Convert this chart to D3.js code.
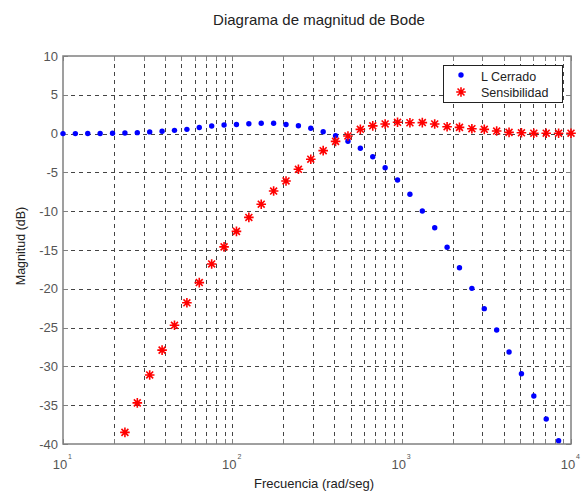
<!DOCTYPE html>
<html>
<head>
<meta charset="utf-8">
<title>Diagrama de magnitud de Bode</title>
<script src="https://cdn.jsdelivr.net/npm/d3@7"></script>
<style>
  body { margin: 0; background: #fff; }
  svg { display: block; font-family: "Liberation Sans", Arial, sans-serif; }
</style>
</head>
<body>
<div id="chart"></div>
<script>
// frecuencias (rad/seg), 42 puntos log-espaciados de 10 a 10^4
var freq = [10, 11.83, 14.00, 16.57, 19.61, 23.21, 27.47, 32.51, 38.48, 45.54,
  53.91, 63.80, 75.51, 89.37, 105.77, 125.17, 148.14, 175.33, 207.5, 245.6,
  290.6, 344.0, 407.1, 481.8, 570.2, 674.9, 798.7, 945.4, 1118.8, 1324.2,
  1567.2, 1854.8, 2195.2, 2598.0, 3074.8, 3639.1, 4306.9, 5097.4, 6032.7, 7139.8,
  8449.9, 10000];

// magnitud (dB) lazo cerrado
var lCerrado = [0.0, 0.0, 0.01, 0.02, 0.04, 0.08, 0.12, 0.22, 0.3, 0.42,
  0.55, 0.78, 0.97, 1.1, 1.18, 1.27, 1.33, 1.34, 1.17, 1.02,
  0.68, 0.24, -0.27, -0.99, -1.89, -2.98, -4.39, -5.98, -7.82, -9.97,
  -12.13, -14.65, -17.28, -19.94, -22.56, -25.31, -28.14, -30.94, -33.81, -36.78,
  -39.57, null];

// magnitud (dB) sensibilidad
var sensibilidad = [null, null, null, null, null, -38.5, -34.7, -31.1, -27.9, -24.7,
  -21.8, -19.2, -16.8, -14.6, -12.6, -10.8, -9.1, -7.4, -6.1, -4.6,
  -3.3, -2.2, -1.0, -0.3, 0.55, 1.0, 1.24, 1.46, 1.4, 1.42,
  1.24, 0.89, 0.8, 0.63, 0.55, 0.33, 0.16, 0.1, 0.05, 0.05,
  0.05, 0.05];

var yTicks = [-40, -35, -30, -25, -20, -15, -10, -5, 0, 5, 10];
var xDecades = [1, 2, 3, 4];
var seriesNames = ["L Cerrado", "Sensibilidad"];

var width = 581, height = 492;
var pLeft = 63, pRight = 571, pTop = 56, pBottom = 444;

var svg = d3.select("#chart").append("svg")
  .attr("width", width)
  .attr("height", height);

svg.append("rect").attr("width", width).attr("height", height).attr("fill", "#fff");

var x = d3.scaleLog().domain([10, 10000]).range([pLeft, pRight]);
var y = d3.scaleLinear().domain([-40, 10]).range([pBottom, pTop]);

// posiciones de rejilla log (1..9 x 10^n)
var logTicks = [];
xDecades.slice(0, 3).forEach(function(n) {
  for (var k = 1; k <= 9; k++) logTicks.push(k * Math.pow(10, n));
});
logTicks.push(10000);

// rejilla
var grid = svg.append("g")
  .attr("stroke", "#444")
  .attr("stroke-width", 1)
  .attr("stroke-dasharray", "4,4");

grid.selectAll("line.v")
  .data(logTicks.filter(function(d) { return d > 10 && d < 10000; }))
  .join("line")
    .attr("class", "v")
    .attr("x1", function(d) { return Math.round(x(d)) + 0.5; })
    .attr("x2", function(d) { return Math.round(x(d)) + 0.5; })
    .attr("y1", pTop)
    .attr("y2", pBottom);

grid.selectAll("line.h")
  .data(yTicks.filter(function(d) { return d > -40 && d < 10; }))
  .join("line")
    .attr("class", "h")
    .attr("x1", pLeft)
    .attr("x2", pRight)
    .attr("y1", function(d) { return Math.round(y(d)) + 0.5; })
    .attr("y2", function(d) { return Math.round(y(d)) + 0.5; });

// ticks hacia dentro
var ticks = svg.append("g").attr("stroke", "#808080").attr("stroke-width", 1);
logTicks.forEach(function(d) {
  var xx = Math.round(x(d)) + 0.5;
  ticks.append("line").attr("x1", xx).attr("x2", xx).attr("y1", pBottom).attr("y2", pBottom - 5);
  ticks.append("line").attr("x1", xx).attr("x2", xx).attr("y1", pTop).attr("y2", pTop + 5);
});
yTicks.forEach(function(d) {
  var yy = Math.round(y(d)) + 0.5;
  ticks.append("line").attr("x1", pLeft).attr("x2", pLeft + 5).attr("y1", yy).attr("y2", yy);
  ticks.append("line").attr("x1", pRight).attr("x2", pRight - 5).attr("y1", yy).attr("y2", yy);
});

// marco
svg.append("rect")
  .attr("x", pLeft).attr("y", pTop)
  .attr("width", pRight - pLeft).attr("height", pBottom - pTop)
  .attr("fill", "none")
  .attr("stroke", "#808080")
  .attr("stroke-width", 1.5);

// etiquetas eje y
svg.append("g").selectAll("text")
  .data(yTicks)
  .join("text")
    .attr("x", pLeft - 5)
    .attr("y", function(d) { return y(d); })
    .attr("dy", "0.36em")
    .attr("text-anchor", "end")
    .attr("font-size", 13)
    .attr("fill", "#555")
    .text(function(d) { return d; });

// etiquetas eje x (10^n)
var xl = svg.append("g").selectAll("text")
  .data(xDecades)
  .join("text")
    .attr("x", function(d) { return x(Math.pow(10, d)) - 3; })
    .attr("y", 469)
    .attr("text-anchor", "middle")
    .attr("font-size", 13)
    .attr("fill", "#555");
xl.append("tspan").text("10");
xl.append("tspan").attr("x", function(d) { return x(Math.pow(10, d)) + 7; })
  .attr("dy", -10).attr("font-size", 7).text(function(d) { return d; });

// títulos
svg.append("text")
  .attr("x", 319).attr("y", 25)
  .attr("text-anchor", "middle")
  .attr("font-size", 15)
  .attr("fill", "#222")
  .text("Diagrama de magnitud de Bode");

svg.append("text")
  .attr("x", 314).attr("y", 488)
  .attr("text-anchor", "middle")
  .attr("font-size", 13)
  .attr("fill", "#222")
  .text("Frecuencia (rad/seg)");

svg.append("text")
  .attr("transform", "translate(25," + ((pTop + pBottom) / 2 - 4) + ") rotate(-90)")
  .attr("text-anchor", "middle")
  .attr("font-size", 12.5)
  .attr("fill", "#222")
  .text("Magnitud (dB)");

// marcador asterisco (+ y x)
function star(s) {
  var d = s * 0.72;
  return "M0," + (-s) + "V" + s + "M" + (-s) + ",0H" + s +
    "M" + (-d) + "," + (-d) + "L" + d + "," + d +
    "M" + (-d) + "," + d + "L" + d + "," + (-d);
}

var ptsLC = freq.map(function(f, i) { return [f, lCerrado[i]]; })
  .filter(function(p) { return p[1] !== null; });
var ptsS = freq.map(function(f, i) { return [f, sensibilidad[i]]; })
  .filter(function(p) { return p[1] !== null; });

svg.append("g").selectAll("circle")
  .data(ptsLC)
  .join("circle")
    .attr("cx", function(d) { return x(d[0]); })
    .attr("cy", function(d) { return y(d[1]); })
    .attr("r", 2.7)
    .attr("fill", "#0000ff");

svg.append("g").selectAll("path")
  .data(ptsS)
  .join("path")
    .attr("transform", function(d) { return "translate(" + x(d[0]) + "," + y(d[1]) + ")"; })
    .attr("d", star(4.8))
    .attr("fill", "none")
    .attr("stroke", "#ff0000")
    .attr("stroke-width", 1.6);

// leyenda
var leg = svg.append("g");
leg.append("rect")
  .attr("x", 443.5).attr("y", 65.5)
  .attr("width", 119).attr("height", 37)
  .attr("fill", "#fff")
  .attr("stroke", "#222")
  .attr("stroke-width", 1);
leg.append("circle").attr("cx", 461).attr("cy", 75).attr("r", 2.7).attr("fill", "#0000ff");
leg.append("path")
  .attr("transform", "translate(461,92)")
  .attr("d", star(4.8))
  .attr("fill", "none")
  .attr("stroke", "#ff0000")
  .attr("stroke-width", 1.6);
leg.selectAll("text")
  .data(seriesNames)
  .join("text")
    .attr("x", 481)
    .attr("y", function(d, i) { return 76 + i * 16; })
    .attr("dy", "0.36em")
    .attr("font-size", 12.5)
    .attr("fill", "#222")
    .text(function(d) { return d; });
</script>
</body>
</html>
